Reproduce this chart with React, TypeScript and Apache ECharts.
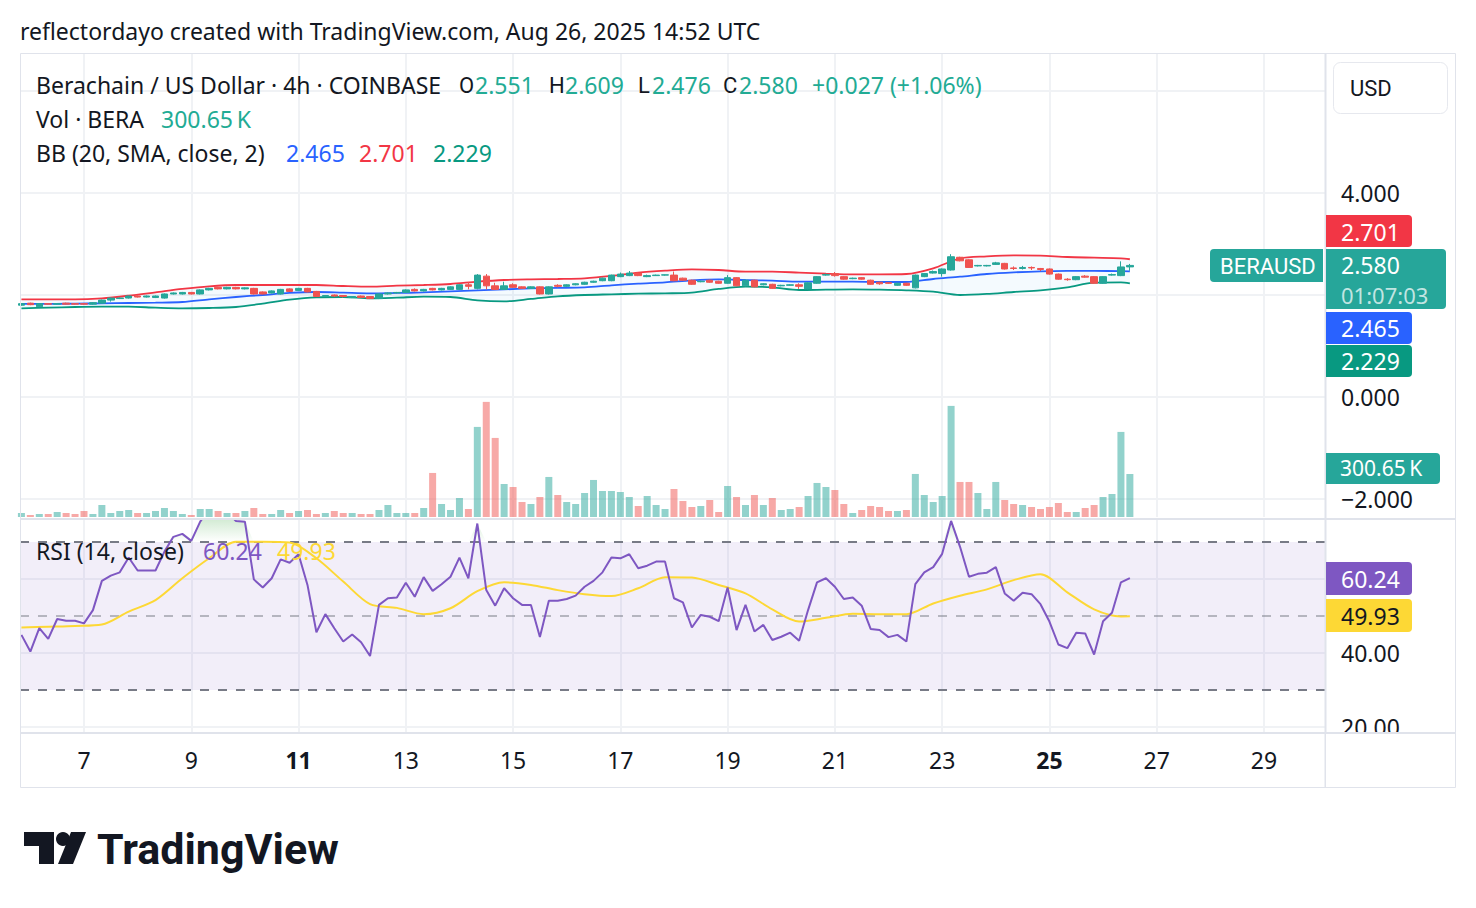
import React, { useEffect, useRef } from "react";
import * as echarts from "echarts";

// ---------- time scale (days of August 2025, UTC) ----------
const START_DAY = 5 + 20 / 24; // first visible 4h candle: Aug 5, 20:00
const CANDLE_DAYS = 4 / 24;
const X_MIN = 5.8068;
const X_MAX = 30.138;
const dayTicks = [7, 9, 11, 13, 15, 17, 19, 21, 23, 25, 27, 29];
const boldDays = [11, 25];

// ---------- price axis ----------
const priceGridValues = [-2, 0, 2, 4, 6];
const priceLabelValues = [-2, 0, 4];
const rsiGridValues = [20, 40, 60];
const rsiLabelValues = [20, 40];

// ---------- candles (BERAUSD 4h) ----------
const opens = [1.80,1.84,1.77,1.83,1.82,1.84,1.83,1.83,1.82,1.84, 1.90,1.93,1.94,1.98,1.96,1.95,1.94,2.02,2.02,2.05, 2.02,2.10,2.15,2.12,2.15,2.12,2.13,2.06,2.04,2.02, 2.12,2.09,2.13,2.07,1.97,2.00,1.99,1.95,1.98,1.97, 1.93,2.02,2.04,2.05,2.11,2.08,2.13,2.10,2.11,2.11, 2.20,2.13,2.37,2.18,2.11,2.20,2.16,2.13,2.16,2.02, 2.19,2.17,2.20,2.21,2.25,2.28,2.28,2.36,2.38,2.43, 2.36,2.38,2.39,2.39,2.33,2.29,2.26,2.29,2.27,2.23, 2.34,2.18,2.29,2.20,2.21,2.18,2.19,2.20,2.12,2.23, 2.39,2.42,2.36,2.32,2.34,2.29,2.25,2.24,2.19,2.23, 2.14,2.36,2.43,2.42,2.49,2.74,2.69,2.57,2.57,2.60, 2.62,2.53,2.52,2.54,2.52,2.51,2.41,2.31,2.30,2.37, 2.36,2.23,2.39,2.38,2.551];
const highs = [1.84,1.85,1.84,1.84,1.84,1.85,1.84,1.84,1.86,1.91, 1.95,1.95,1.99,1.99,1.99,1.99,2.03,2.05,2.06,2.06, 2.11,2.14,2.16,2.16,2.16,2.15,2.14,2.07,2.09,2.12, 2.13,2.14,2.14,2.08,2.00,2.01,2.00,1.98,1.99,1.98, 2.03,2.05,2.06,2.11,2.13,2.12,2.14,2.14,2.17,2.21, 2.25,2.41,2.41,2.24,2.26,2.23,2.17,2.17,2.17,2.17, 2.21,2.21,2.23,2.26,2.28,2.34,2.40,2.44,2.47,2.44, 2.40,2.40,2.40,2.46,2.34,2.30,2.28,2.30,2.28,2.39, 2.35,2.30,2.30,2.23,2.22,2.20,2.21,2.23,2.25,2.37, 2.42,2.45,2.37,2.34,2.35,2.30,2.26,2.25,2.24,2.24, 2.40,2.43,2.48,2.52,2.80,2.75,2.70,2.59,2.59,2.65, 2.63,2.56,2.57,2.56,2.53,2.52,2.42,2.33,2.37,2.39, 2.37,2.37,2.42,2.66,2.609];
const lows = [1.79,1.80,1.76,1.81,1.81,1.81,1.81,1.81,1.81,1.83, 1.87,1.92,1.93,1.95,1.95,1.94,1.93,2.01,2.01,2.01, 2.01,2.09,2.11,2.11,2.11,2.11,2.01,2.01,2.03,2.01, 2.06,2.08,2.05,1.96,1.96,1.96,1.95,1.94,1.94,1.92, 1.92,2.01,2.03,2.04,2.07,2.07,2.09,2.09,2.10,2.10, 2.11,2.11,2.11,2.10,2.10,2.14,2.12,2.12,2.01,2.01, 2.15,2.16,2.19,2.20,2.24,2.27,2.27,2.35,2.37,2.37, 2.35,2.38,2.38,2.27,2.28,2.20,2.25,2.24,2.22,2.22, 2.17,2.17,2.15,2.19,2.12,2.17,2.18,2.12,2.11,2.22, 2.38,2.36,2.30,2.31,2.30,2.20,2.20,2.22,2.18,2.18, 2.13,2.35,2.42,2.36,2.48,2.66,2.53,2.56,2.56,2.59, 2.50,2.49,2.50,2.49,2.47,2.40,2.30,2.28,2.29,2.34, 2.22,2.22,2.38,2.37,2.476];
const closes = [1.83,1.81,1.83,1.82,1.83,1.82,1.82,1.82,1.85,1.90, 1.94,1.94,1.98,1.96,1.98,1.98,2.02,2.04,2.05,2.02, 2.10,2.13,2.12,2.15,2.12,2.14,2.02,2.02,2.08,2.11, 2.07,2.13,2.06,1.97,1.99,1.98,1.97,1.97,1.95,1.93, 2.02,2.04,2.05,2.10,2.08,2.11,2.10,2.13,2.16,2.20, 2.17,2.39,2.18,2.11,2.18,2.15,2.13,2.16,2.02,2.16, 2.17,2.20,2.22,2.25,2.27,2.33,2.39,2.41,2.43,2.38, 2.38,2.39,2.395,2.28,2.29,2.21,2.27,2.25,2.23,2.34, 2.18,2.29,2.16,2.22,2.13,2.19,2.20,2.17,2.24,2.36, 2.40,2.38,2.31,2.33,2.31,2.21,2.22,2.23,2.23,2.19, 2.39,2.42,2.46,2.51,2.75,2.67,2.54,2.58,2.58,2.63, 2.51,2.52,2.54,2.53,2.50,2.41,2.31,2.30,2.36,2.35, 2.23,2.36,2.40,2.55,2.580];

// ---------- volume (thousands of BERA) ----------
const volumesK = [28,14,21,21,35,28,21,42,21,84, 28,42,49,28,28,42,63,42,21,14, 56,56,42,28,28,42,63,21,21,49, 28,42,49,21,28,42,28,28,21,21, 49,84,28,28,28,63,308,91,49,133, 56,630,805,553,231,210,105,91,140,280, 154,105,91,168,259,182,182,175,140,77, 147,84,56,196,112,70,77,119,35,217, 140,84,154,84,133,49,56,70,147,238, 210,189,91,28,49,77,70,42,42,49, 301,154,105,147,777,245,245,168,56,245, 119,91,84,70,56,70,98,35,35,63, 84,140,161,595,300.65];

// ---------- Bollinger Bands (20, SMA, close, 2), sampled candle indices ----------
const bbIdx = [0,3,6,9,12,15,18,21,24,27,30,33,36,39,42,45,48,51,54,57,60,63,66,69,72,75,78,81,84,87,90,93,96,99,102,105,108,111,114,117,120,123,124];
const bbUpper = [1.915,1.915,1.915,1.935,1.987,2.052,2.118,2.170,2.196,2.196,2.196,2.196,2.176,2.163,2.183,2.196,2.216,2.261,2.294,2.307,2.314,2.327,2.373,2.438,2.477,2.503,2.490,2.458,2.458,2.438,2.418,2.405,2.405,2.412,2.523,2.719,2.758,2.778,2.771,2.745,2.732,2.719,2.701];
const bbBasis = [1.824,1.824,1.830,1.837,1.843,1.850,1.863,1.915,1.961,2.000,2.040,2.059,2.046,2.033,2.040,2.050,2.070,2.090,2.110,2.130,2.140,2.150,2.190,2.222,2.248,2.288,2.307,2.294,2.281,2.261,2.261,2.261,2.255,2.255,2.314,2.359,2.412,2.444,2.464,2.471,2.471,2.470,2.465];
const bbLower = [1.739,1.752,1.765,1.771,1.771,1.752,1.739,1.745,1.765,1.830,1.908,1.954,1.961,1.935,1.948,1.967,1.961,1.895,1.876,1.922,1.974,2.000,2.013,2.026,2.033,2.046,2.118,2.163,2.150,2.098,2.105,2.111,2.105,2.092,2.065,2.000,2.020,2.059,2.092,2.150,2.242,2.248,2.229];

// ---------- RSI (14, close) ----------
const rsi = [44.9,40.4,46.7,43.8,49.2,48.7,48.7,48.0,51.6,59.5, 60.9,61.8,65.8,62.3,62.3,62.3,67.4,71.4,72.2,70.3, 75.5,79.0,80.2,78.1,75.7,75.5,59.9,57.7,60.2,65.3, 64.4,66.7,58.4,45.6,50.5,46.7,43.1,45.0,42.9,39.2, 53.0,54.8,55.0,59.0,55.2,60.5,56.8,58.6,60.6,65.8, 60.2,75.0,57.0,52.8,57.5,54.8,53.0,53.0,44.3,54.1, 54.1,54.6,55.5,57.9,59.5,61.8,65.8,65.6,66.7,62.9, 63.6,64.7,64.7,54.8,53.7,46.9,50.3,49.8,48.6,57.7, 46.2,53.0,45.8,47.6,43.5,44.4,45.5,43.3,51.6,59.1, 60.2,57.9,54.6,55.0,52.8,46.5,46.2,44.3,44.9,43.1, 58.6,61.8,63.2,66.8,75.7,68.7,60.6,61.4,61.7,63.2, 56.1,54.1,56.3,55.9,53.2,48.5,42.3,41.3,45.5,45.3, 39.6,48.6,50.9,59.1,60.24];
const rsiMaIdx = [0,3,6,9,12,15,18,21,24,27,30,33,36,39,42,45,48,51,54,57,60,63,66,69,72,75,78,81,84,87,90,93,96,99,102,105,108,111,114,117,120,123,124];
const rsiMa = [46.9,47.1,47.3,47.7,51.2,54.3,60.2,65.6,70.1,70.1,69.9,65.6,59.3,53.2,52.2,50.5,52.1,56.7,59.1,58.4,57.0,55.9,55.4,57.5,60.5,60.4,58.4,56.1,51.8,48.5,49.5,50.6,50.5,50.5,53.4,55.5,57.2,59.7,61.3,56.4,51.8,49.9,49.93];
const RSI_OB = 70;
const RSI_MID = 50;
const RSI_OS = 30;

// ---------- styling ----------
const FONT = "'Noto Sans', 'Open Sans', sans-serif";
const FS = 23;
const CAPS_FONT = "Roboto, 'Noto Sans', sans-serif";
const CAPS_FS = 22;
const TEXT = "#131722";
const UP = "#26a69a";
const DOWN = "#ef5350";
const UP_VOL = "rgba(38,166,154,0.5)";
const DOWN_VOL = "rgba(239,83,80,0.5)";
const GRID = "#f0f2f5";
const SEP = "#e0e3eb";
const LEG_UP = "#22ab94";

const tOf = (i: number) => START_DAY + i * CANDLE_DAYS;
const fmtPrice = (v: number) => (v < 0 ? "\u2212" : "") + Math.abs(v).toFixed(3);

function buildOption() {
  const n = closes.length;
  const candleData = closes.map((c, i) => [tOf(i), opens[i], c, lows[i], highs[i]]);
  const volData = volumesK.map((v, i) => ({
    value: [tOf(i), v],
    itemStyle: { color: closes[i] >= opens[i] ? UP_VOL : DOWN_VOL },
  }));
  const bbLine = (vals: number[]) => bbIdx.map((k, j) => [tOf(k), vals[j]]);
  const rsiData = rsi.map((v, i) => [tOf(i), v]);
  const rsiMaData = rsiMaIdx.map((k, j) => [tOf(k), rsiMa[j]]);

  const txt = (x: number, y: number, text: string, fill: string, extra: any = {}) => ({
    type: "text",
    x,
    y,
    z: 102,
    silent: true,
    style: {
      text, fill, fontSize: FS, fontFamily: FONT, lineHeight: 24,
      align: "left", verticalAlign: "middle", ...extra,
    },
  });
  const caps = { fontSize: CAPS_FS, fontFamily: CAPS_FONT };
  const box = (x: number, y: number, w: number, h: number, fill: string, r: any) => ({
    type: "rect",
    z: 101,
    silent: true,
    shape: { x, y, width: w, height: h, r },
    style: { fill },
  });
  const hline = (x1: number, x2: number, y: number, w = 2) => ({
    type: "line",
    z: 100,
    silent: true,
    shape: { x1, y1: y, x2, y2: y },
    style: { stroke: SEP, lineWidth: w },
  });

  const lastClose = closes[n - 1];
  const bbL = bbLower.length - 1;

  const graphics: any[] = [
    // white cover for the price-axis part of the time scale (clips "20.00")
    box(1326, 734, 129, 53, "#ffffff", 0),
    // frame & separators
    {
      type: "rect", z: 100, silent: true,
      shape: { x: 20.5, y: 53.5, width: 1435, height: 734 },
      style: { fill: "none", stroke: SEP, lineWidth: 1 },
    },
    { type: "line", z: 100, silent: true, shape: { x1: 1325.5, y1: 53, x2: 1325.5, y2: 788 }, style: { stroke: SEP, lineWidth: 2 } },
    hline(20, 1456, 519),
    hline(20, 1456, 733),
    // title
    txt(20, 31, "reflectordayo created with TradingView.com, Aug 26, 2025 14:52 UTC", TEXT),
    // legend line 1
    txt(36, 85, "Berachain / US Dollar \u00b7 4h \u00b7 COINBASE", TEXT),
    txt(459, 85, "O", TEXT, caps), txt(475, 85, opens[n - 1].toFixed(3), LEG_UP),
    txt(549, 85, "H", TEXT, caps), txt(565, 85, highs[n - 1].toFixed(3), LEG_UP),
    txt(638, 85, "L", TEXT, caps), txt(652, 85, lows[n - 1].toFixed(3), LEG_UP),
    txt(723, 85, "C", TEXT, caps), txt(739, 85, lastClose.toFixed(3), LEG_UP),
    txt(812, 85, "+0.027 (+1.06%)", LEG_UP),
    // legend line 2
    txt(36, 119, "Vol \u00b7 BERA", TEXT),
    txt(161, 119, volumesK[n - 1].toFixed(2) + "\u2009K", LEG_UP),
    // legend line 3
    txt(36, 153, "BB (20, SMA, close, 2)", TEXT),
    txt(286, 153, bbBasis[bbL].toFixed(3), "#2962ff"),
    txt(359, 153, bbUpper[bbL].toFixed(3), "#f23645"),
    txt(433, 153, bbLower[bbL].toFixed(3), "#089981"),
    // RSI legend
    txt(36, 551, "RSI (14, close)", TEXT),
    txt(203, 551, rsi[n - 1].toFixed(2), "#7e57c2"),
    txt(277, 551, rsiMa[rsiMa.length - 1].toFixed(2), "#fdd835"),
    // USD box
    {
      type: "rect", z: 101, silent: true,
      shape: { x: 1333.5, y: 62.5, width: 114, height: 51, r: 7 },
      style: { fill: "#ffffff", stroke: "#e6e8ee", lineWidth: 1 },
    },
    txt(1350, 88, "USD", TEXT, caps),
    // price tags
    box(1326, 215, 86, 32, "#f23645", [0, 4, 4, 0]),
    txt(1341, 232, bbUpper[bbL].toFixed(3), "#ffffff"),
    box(1210, 249, 113, 33, UP, [4, 0, 0, 4]),
    txt(1220, 266, "BERAUSD", "#ffffff", caps),
    box(1326, 249, 120, 60, UP, [0, 4, 4, 0]),
    txt(1341, 265, lastClose.toFixed(3), "#ffffff", { lineHeight: 22 }),
    txt(1341, 295, "01:07:03", "rgba(255,255,255,0.72)", { lineHeight: 22, fontSize: 22 }),
    box(1326, 312, 86, 32, "#2962ff", [0, 4, 4, 0]),
    txt(1341, 328, bbBasis[bbL].toFixed(3), "#ffffff"),
    box(1326, 345, 86, 32, "#089981", [0, 4, 4, 0]),
    txt(1341, 361, bbLower[bbL].toFixed(3), "#ffffff"),
    box(1326, 453, 114, 31, UP, [0, 4, 4, 0]),
    txt(1340, 468, volumesK[n - 1].toFixed(2) + "\u2009K", "#ffffff", { lineHeight: 20, fontSize: 21 }),
    box(1326, 562, 86, 33, "#7e57c2", [0, 4, 4, 0]),
    txt(1341, 579, rsi[n - 1].toFixed(2), "#ffffff"),
    box(1326, 599, 86, 33, "#fdd835", [0, 4, 4, 0]),
    txt(1341, 616, rsiMa[rsiMa.length - 1].toFixed(2), TEXT),
    // TradingView logo
    {
      type: "polygon", z: 101, silent: true,
      shape: { points: [[24, 832], [54, 832], [54, 864], [39, 864], [39, 846], [24, 846]] },
      style: { fill: TEXT },
    },
    { type: "circle", z: 101, silent: true, shape: { cx: 63, cy: 839, r: 7 }, style: { fill: TEXT } },
    {
      type: "polygon", z: 101, silent: true,
      shape: { points: [[71, 832], [86, 832], [73, 864], [58, 864]] },
      style: { fill: TEXT },
    },
    txt(97, 849, "TradingView", TEXT, { fontSize: 43, lineHeight: 46, fontWeight: "bold", fontFamily: CAPS_FONT }),
  ];

  const xAxisBase = {
    type: "value",
    min: X_MIN,
    max: X_MAX,
    axisLine: { show: false },
    axisTick: { show: false, customValues: dayTicks },
    splitLine: { show: true, lineStyle: { color: GRID, width: 2 } },
  };

  return {
    animation: false,
    backgroundColor: "#ffffff",
    grid: [
      { left: 20, top: 53, width: 1305, height: 464, outerBoundsMode: "none" },
      { left: 20, top: 520, width: 1305, height: 212, outerBoundsMode: "none" },
    ],
    xAxis: [
      { ...xAxisBase, gridIndex: 0, axisLabel: { show: false, customValues: dayTicks } },
      {
        ...xAxisBase,
        gridIndex: 1,
        axisLabel: {
          show: true,
          customValues: dayTicks,
          margin: 16,
          color: TEXT,
          fontSize: FS,
          fontFamily: FONT,
          formatter: (v: number) => (boldDays.includes(Math.round(v)) ? `{b|${Math.round(v)}}` : `${Math.round(v)}`),
          rich: { b: { fontWeight: "bold", fontSize: FS, fontFamily: FONT, color: TEXT } },
        },
      },
    ],
    yAxis: [
      {
        type: "value",
        gridIndex: 0,
        position: "right",
        min: -2.353,
        max: 6.745,
        axisLine: { show: false },
        axisTick: { show: false, customValues: priceGridValues },
        axisLabel: {
          customValues: priceLabelValues,
          formatter: fmtPrice,
          color: TEXT,
          fontSize: FS,
          fontFamily: FONT,
          lineHeight: 22,
          margin: 16,
          align: "left",
        },
        splitLine: { show: true, lineStyle: { color: GRID, width: 2 } },
      },
      {
        type: "value",
        gridIndex: 0,
        min: 0,
        max: 3245,
        show: false,
        splitLine: { show: false },
      },
      {
        type: "value",
        gridIndex: 1,
        position: "right",
        min: 18.65,
        max: 75.95,
        axisLine: { show: false },
        axisTick: { show: false, customValues: rsiGridValues },
        axisLabel: {
          customValues: rsiLabelValues,
          formatter: (v: number) => v.toFixed(2),
          color: TEXT,
          fontSize: FS,
          fontFamily: FONT,
          lineHeight: 22,
          margin: 16,
          align: "left",
        },
        splitLine: { show: true, lineStyle: { color: GRID, width: 2 } },
      },
    ],
    series: [
      {
        // Bollinger band background
        type: "custom",
        xAxisIndex: 0,
        yAxisIndex: 0,
        z: 1,
        silent: true,
        clip: true,
        data: [[tOf(0), bbLower[0]]],
        encode: { x: 0, y: 1 },
        renderItem: (_p: any, api: any) => {
          const top = bbIdx.map((k, j) => api.coord([tOf(k), bbUpper[j]]));
          const bot = bbIdx.map((k, j) => api.coord([tOf(k), bbLower[j]])).reverse();
          return { type: "polygon", shape: { points: top.concat(bot) }, style: { fill: "rgba(33,150,243,0.05)" } };
        },
      },
      {
        type: "bar",
        name: "Volume",
        xAxisIndex: 0,
        yAxisIndex: 1,
        barWidth: 7,
        z: 2,
        silent: true,
        data: volData,
      },
      {
        type: "line", name: "BB upper", xAxisIndex: 0, yAxisIndex: 0, z: 3, silent: true,
        symbol: "none", smooth: 0.3, data: bbLine(bbUpper), lineStyle: { color: "#f23645", width: 1.8 },
      },
      {
        type: "line", name: "BB basis", xAxisIndex: 0, yAxisIndex: 0, z: 3, silent: true,
        symbol: "none", smooth: 0.3, data: bbLine(bbBasis), lineStyle: { color: "#2962ff", width: 1.8 },
      },
      {
        type: "line", name: "BB lower", xAxisIndex: 0, yAxisIndex: 0, z: 3, silent: true,
        symbol: "none", smooth: 0.3, data: bbLine(bbLower), lineStyle: { color: "#089981", width: 1.8 },
      },
      {
        type: "candlestick",
        name: "BERAUSD",
        xAxisIndex: 0,
        yAxisIndex: 0,
        z: 4,
        silent: true,
        barWidth: 7,
        data: candleData,
        itemStyle: { color: UP, color0: DOWN, borderColor: UP, borderColor0: DOWN, borderWidth: 1 },
      },
      {
        // RSI band & levels (carrier series)
        type: "line",
        xAxisIndex: 1,
        yAxisIndex: 2,
        z: 1,
        silent: true,
        symbol: "none",
        data: rsiMaData,
        lineStyle: { opacity: 0 },
        markArea: {
          silent: true,
          itemStyle: { color: "rgba(126,87,194,0.1)" },
          data: [[{ yAxis: RSI_OS }, { yAxis: RSI_OB }]],
        },
        markLine: {
          silent: true,
          symbol: "none",
          label: { show: false },
          data: [
            { yAxis: RSI_OB, lineStyle: { color: "#787b86", type: [9, 9], width: 2 } },
            { yAxis: RSI_MID, lineStyle: { color: "rgba(120,123,134,0.5)", type: [9, 9], width: 2 } },
            { yAxis: RSI_OS, lineStyle: { color: "#787b86", type: [9, 9], width: 2 } },
          ],
        },
      },
      {
        // overbought fill
        type: "custom",
        xAxisIndex: 1,
        yAxisIndex: 2,
        z: 2,
        silent: true,
        clip: true,
        data: [[tOf(0), RSI_OB]],
        encode: { x: 0, y: 1 },
        renderItem: (_p: any, api: any) => {
          const top = rsi.map((v, i) => api.coord([tOf(i), Math.max(v, RSI_OB)]));
          const base = [api.coord([tOf(rsi.length - 1), RSI_OB]), api.coord([tOf(0), RSI_OB])];
          return {
            type: "polygon",
            shape: { points: top.concat(base) },
            style: {
              fill: new echarts.graphic.LinearGradient(0, 520, 0, 542, [
                { offset: 0, color: "rgba(76,175,80,0.24)" },
                { offset: 1, color: "rgba(76,175,80,0)" },
              ], true),
            },
          };
        },
      },
      {
        type: "line", name: "RSI-based MA", xAxisIndex: 1, yAxisIndex: 2, z: 6, silent: true,
        symbol: "none", smooth: 0.3, data: rsiMaData, lineStyle: { color: "#fdd835", width: 2 },
      },
      {
        type: "line", name: "RSI", xAxisIndex: 1, yAxisIndex: 2, z: 7, silent: true,
        symbol: "none", data: rsiData, lineStyle: { color: "#7e57c2", width: 2 },
      },
    ],
    graphic: { elements: graphics },
  };
}

export default function App() {
  const ref = useRef<HTMLDivElement>(null);
  useEffect(() => {
    if (!ref.current) return;
    const chart = echarts.init(ref.current, null, { renderer: "svg" });
    chart.setOption(buildOption() as any);
    return () => chart.dispose();
  }, []);
  return (
    <div
      ref={ref}
      style={{ position: "fixed", left: 0, top: 0, width: 1476, height: 908, background: "#ffffff" }}
    />
  );
}
